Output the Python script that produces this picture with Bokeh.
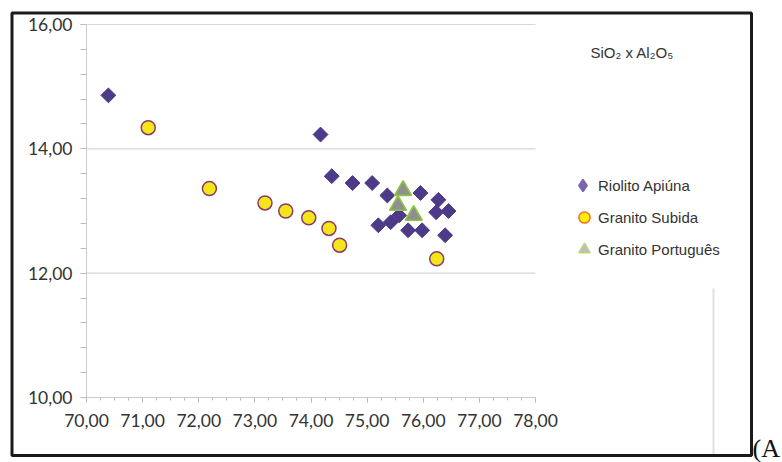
import numpy as np
from bokeh.plotting import figure
from bokeh.models import (FixedTicker, Legend, LegendItem, Label, BoxAnnotation,
                          ColumnDataSource)
from bokeh.embed import file_html
from bokeh.resources import INLINE

# --- data -------------------------------------------------------------
riolito_x = [70.39, 74.17, 74.37, 74.74, 75.09, 75.36, 75.95, 76.27,
             76.45, 76.23, 75.20, 75.42, 75.57, 75.73, 75.98, 76.39]
riolito_y = [14.86, 14.23, 13.56, 13.45, 13.45, 13.25, 13.29, 13.18,
             13.00, 12.98, 12.77, 12.82, 12.93, 12.69, 12.69, 12.61]

subida_x = [71.10, 72.19, 73.18, 73.55, 73.96, 74.32, 74.51, 76.24]
subida_y = [14.34, 13.36, 13.13, 13.00, 12.89, 12.72, 12.45, 12.23]

portugues_x = [75.64, 75.55, 75.83]
portugues_y = [13.33, 13.09, 12.93]

series_names = ["Riolito Apiúna", "Granito Subida", "Granito Português"]

x_ticks = [70, 71, 72, 73, 74, 75, 76, 77, 78]
x_tick_labels = ["70,00", "71,00", "72,00", "73,00", "74,00", "75,00",
                 "76,00", "77,00", "78,00"]
y_ticks = [10, 12, 14, 16]
y_tick_labels = ["10,00", "12,00", "14,00", "16,00"]

title_text = "SiO₂ x Al₂O₅"
panel_tag = "(A"

# --- layout -------------------------------------------------------------
# The plotting frame fills the whole canvas; the axes are pinned at the
# data origin, so the chart area sits at px (86..535, 24..397).
W, H = 782, 462
AX_L, AX_R, AX_T, AX_B = 86, 535, 24, 397
kx = (AX_R - AX_L) / (x_ticks[-1] - x_ticks[0])
ky = (AX_B - AX_T) / (y_ticks[-1] - y_ticks[0])
x_range = (x_ticks[0] - AX_L / kx, x_ticks[-1] + (W - AX_R) / kx)
y_range = (y_ticks[0] - (H - AX_B) / ky, y_ticks[-1] + AX_T / ky)

p = figure(width=W, height=H, x_range=x_range, y_range=y_range,
           min_border=0, output_backend="svg", toolbar_location=None,
           background_fill_color="white", border_fill_color="white")
p.outline_line_color = None
p.xgrid.visible = False
p.ygrid.visible = False

x_minor = list(np.round(np.arange(x_ticks[0], x_ticks[-1] + 0.001, 0.25), 2))
y_minor = list(np.round(np.arange(y_ticks[0], y_ticks[-1] + 0.001, 0.4), 2))

ax, ay = p.xaxis[0], p.yaxis[0]
ax.fixed_location = y_ticks[0]
ay.fixed_location = x_ticks[0]
ax.bounds = (x_ticks[0], x_ticks[-1])
ay.bounds = (y_ticks[0], y_ticks[-1])
ax.ticker = FixedTicker(ticks=x_ticks, minor_ticks=x_minor)
ay.ticker = FixedTicker(ticks=y_ticks, minor_ticks=y_minor)
ax.major_label_overrides = dict(zip(x_ticks, x_tick_labels))
ay.major_label_overrides = dict(zip(y_ticks, y_tick_labels))

for a in (ax, ay):
    a.axis_line_color = "#cfcaca"
    a.major_tick_line_color = "#c4bcbc"
    a.minor_tick_line_color = "#c4bcbc"
    a.major_tick_in = 0
    a.minor_tick_in = 0
    a.major_label_text_font = "Lato"
    a.major_label_text_font_size = "17.5px"
    a.major_label_text_color = "#333333"
ax.major_tick_out = 5
ax.minor_tick_out = 3
ax.major_label_standoff = 11
ay.major_tick_out = 6
ay.minor_tick_out = 6
ay.major_label_standoff = 8

# horizontal gridlines across the chart area only
p.segment(x0=x_ticks[0], x1=x_ticks[-1], y0=y_ticks[1:], y1=y_ticks[1:],
          line_color="#dcd6d6", line_width=1.2)

# --- series -----------------------------------------------------------
r1 = p.scatter(riolito_x, riolito_y, marker="square", angle=np.pi / 4,
               size=10.5, fill_color="#4d3a88", line_color="#4d3a88")
r2 = p.scatter(subida_x, subida_y, marker="circle", size=14,
               fill_color="#f4e61a", line_color="#8a3c68", line_width=1.5)
r3 = p.scatter(portugues_x, portugues_y, marker="triangle", size=17,
               fill_color="#8f8f8f", line_color="#8cc63f", line_width=1.6)

# legend swatches (lighter styling than the plotted marks); NaN rows are
# never drawn in the chart itself
swatch = dict(x=[np.nan], y=[np.nan])
l1 = p.scatter("x", "y", source=ColumnDataSource(swatch), marker="diamond",
               fill_color="#7a66ae", line_color="#7a66ae", line_width=1.5)
l2 = p.scatter("x", "y", source=ColumnDataSource(swatch), marker="circle",
               fill_color="#fff200", line_color="#f26b3a", line_width=1.5)
l3 = p.scatter("x", "y", source=ColumnDataSource(swatch), marker="triangle",
               fill_color="#bdbdbd", line_color="#b9d872", line_width=1.5)


def fx(px):
    return px


def fy(py):
    return H - py


TX = 598                      # left edge of the legend labels
ROW_CENTRES = [185, 217, 249]
legend_text = dict(label_text_font="Liberation Sans", label_text_font_size="15px",
                   label_text_color="#333333", label_standoff=0, spacing=0,
                   padding=0, margin=0, border_line_color=None,
                   background_fill_alpha=0)

# first row: diamond swatch in its own, slightly larger glyph box
gw1, gh1 = 31, 36
p.add_layout(Legend(items=[LegendItem(label=series_names[0], renderers=[l1], index=0)],
                    location=(fx(TX - gw1), fy(ROW_CENTRES[0] + gh1 // 2)),
                    glyph_width=gw1, glyph_height=gh1, label_height=gh1,
                    **legend_text), "center")

gw, gh = 28, 32
p.add_layout(Legend(items=[LegendItem(label=series_names[1], renderers=[l2], index=0),
                           LegendItem(label=series_names[2], renderers=[l3], index=0)],
                    location=(fx(TX - gw), fy(ROW_CENTRES[1] - gh // 2 + 2 * gh)),
                    glyph_width=gw, glyph_height=gh, label_height=gh,
                    **legend_text), "center")

# --- annotations ------------------------------------------------------
p.add_layout(Label(x=fx(590), y=fy(52), x_units="screen", y_units="screen",
                   text=title_text, text_font="Liberation Sans",
                   text_font_size="15px", text_color="#333333",
                   text_baseline="middle"))

p.add_layout(Label(x=fx(752), y=fy(462), x_units="screen", y_units="screen",
                   text=panel_tag, text_font="Liberation Serif",
                   text_font_size="26px", text_color="#111111",
                   text_baseline="bottom"))

# thin divider line near the right edge
p.add_layout(BoxAnnotation(left=fx(712), right=fx(714), top=fy(288), bottom=fy(454),
                           left_units="screen", right_units="screen",
                           top_units="screen", bottom_units="screen",
                           fill_color="#e2e0e0", fill_alpha=1, line_color=None))

# outer box
p.add_layout(BoxAnnotation(left=fx(11.5), right=fx(751), top=fy(12.5), bottom=fy(455),
                           left_units="screen", right_units="screen",
                           top_units="screen", bottom_units="screen",
                           fill_alpha=0, line_color="#1a1a1a", line_alpha=1,
                           line_width=3))

open("out.html", "w").write(file_html(p, INLINE))
